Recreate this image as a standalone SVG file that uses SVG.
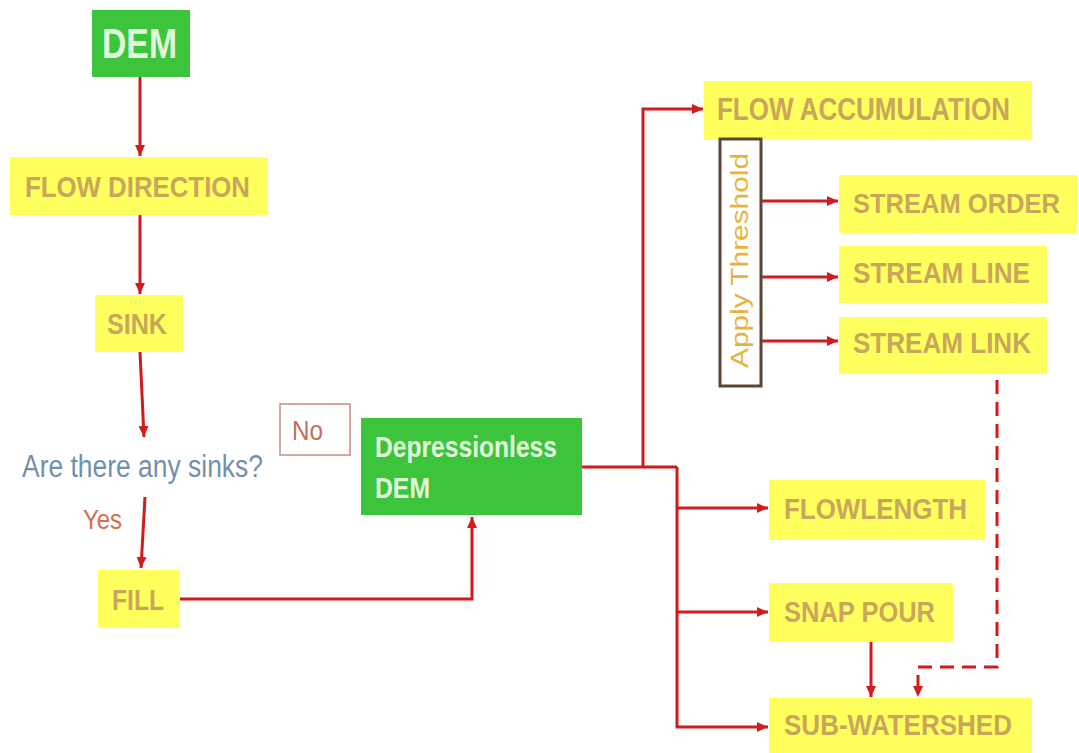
<svg xmlns="http://www.w3.org/2000/svg" width="1079" height="753" viewBox="0 0 1079 753">
<defs>
<style>
.g{fill:#3cc43c}
.y{fill:#ffff5e}
.yt{font-family:"Liberation Sans",Arial,sans-serif;font-weight:bold;fill:#c9a65c}
.gt{font-family:"Liberation Sans",Arial,sans-serif;fill:#e2f8da}
.c{fill:none;stroke:#d01c1c;stroke-width:3}
.d{stroke-dasharray:14 8}
</style>
<marker id="ah" markerWidth="12" markerHeight="10" refX="11" refY="5" orient="auto" markerUnits="userSpaceOnUse">
<path d="M0,0 L11,5 L0,10 Z" fill="#d01c1c"/>
</marker>
</defs>
<rect width="1079" height="753" fill="#ffffff"/>

<g id="connectors">
<path class="c" d="M140,77 V156" marker-end="url(#ah)"/>
<path class="c" d="M140,215 V294" marker-end="url(#ah)"/>
<path class="c" d="M140,352 L144,437" marker-end="url(#ah)"/>
<path class="c" d="M145,497 L141,568" marker-end="url(#ah)"/>
<path class="c" d="M180,599 H472 V517" marker-end="url(#ah)"/>
<path class="c" d="M582,467 H677"/>
<path class="c" d="M643,467 V109 H703" marker-end="url(#ah)"/>
<path class="c" d="M677,467 V727 H768" marker-end="url(#ah)"/>
<path class="c" d="M677,508 H768" marker-end="url(#ah)"/>
<path class="c" d="M677,612 H768" marker-end="url(#ah)"/>
<path class="c" d="M761,201 H838" marker-end="url(#ah)"/>
<path class="c" d="M761,277 H838" marker-end="url(#ah)"/>
<path class="c" d="M761,341 H838" marker-end="url(#ah)"/>
<path class="c" d="M871,642 V697" marker-end="url(#ah)"/>
<path class="c d" d="M997,380 V667 H918 V697" marker-end="url(#ah)"/>
</g>

<g id="dem">
<rect class="g" x="92" y="10" width="98" height="67"/>
<text class="gt" x="102" y="58" font-size="42" font-weight="bold" textLength="75" lengthAdjust="spacingAndGlyphs">DEM</text>
</g>

<g id="flow-direction">
<rect class="y" x="10" y="157" width="258" height="58"/>
<text class="yt" x="25" y="197" font-size="30" textLength="225" lengthAdjust="spacingAndGlyphs">FLOW DIRECTION</text>
</g>

<g id="sink">
<rect class="y" x="95" y="295" width="88" height="57"/>
<text class="yt" x="107" y="334" font-size="29" textLength="60" lengthAdjust="spacingAndGlyphs">SINK</text>
</g>

<g id="question">
<text x="22" y="477" font-family="Liberation Sans, Arial, sans-serif" font-size="31" fill="#7290ac" textLength="241" lengthAdjust="spacingAndGlyphs">Are there any sinks?</text>
</g>

<g id="no">
<rect x="280" y="404" width="70" height="51" fill="#ffffff" stroke="#c48a86" stroke-width="1.5"/>
<text x="292" y="440" font-family="Liberation Sans, Arial, sans-serif" font-size="27" fill="#c0705c" textLength="31" lengthAdjust="spacingAndGlyphs">No</text>
</g>

<g id="yes">
<text x="83" y="529" font-family="Liberation Sans, Arial, sans-serif" font-size="27" fill="#d2704e" textLength="39" lengthAdjust="spacingAndGlyphs">Yes</text>
</g>

<g id="fill">
<rect class="y" x="98" y="570" width="82" height="58"/>
<text class="yt" x="112" y="610" font-size="30" textLength="52" lengthAdjust="spacingAndGlyphs">FILL</text>
</g>

<g id="depressionless-dem">
<rect class="g" x="361" y="418" width="221" height="97"/>
<text class="gt" x="375" y="457" font-size="29" font-weight="bold" textLength="182" lengthAdjust="spacingAndGlyphs">Depressionless</text>
<text class="gt" x="375" y="498" font-size="29" font-weight="bold" textLength="55" lengthAdjust="spacingAndGlyphs">DEM</text>
</g>

<g id="flow-accumulation">
<rect class="y" x="704" y="81" width="328" height="59"/>
<text class="yt" x="717" y="120" font-size="31" textLength="293" lengthAdjust="spacingAndGlyphs">FLOW ACCUMULATION</text>
</g>

<g id="apply-threshold">
<rect x="720" y="139" width="41" height="247" fill="#ffffff" stroke="#5b4636" stroke-width="3"/>
<text transform="translate(748,368) rotate(-90)" font-family="Liberation Sans, Arial, sans-serif" font-size="23" fill="#e6b43c" textLength="215" lengthAdjust="spacingAndGlyphs">Apply Threshold</text>
</g>

<g id="stream-order">
<rect class="y" x="839" y="175" width="238" height="58"/>
<text class="yt" x="853" y="213" font-size="28" textLength="207" lengthAdjust="spacingAndGlyphs">STREAM ORDER</text>
</g>

<g id="stream-line">
<rect class="y" x="839" y="246" width="208" height="57"/>
<text class="yt" x="853" y="283" font-size="29" textLength="177" lengthAdjust="spacingAndGlyphs">STREAM LINE</text>
</g>

<g id="stream-link">
<rect class="y" x="839" y="317" width="208" height="57"/>
<text class="yt" x="853" y="353" font-size="29" textLength="178" lengthAdjust="spacingAndGlyphs">STREAM LINK</text>
</g>

<g id="flowlength">
<rect class="y" x="769" y="480" width="216" height="60"/>
<text class="yt" x="784" y="519" font-size="29" textLength="183" lengthAdjust="spacingAndGlyphs">FLOWLENGTH</text>
</g>

<g id="snap-pour">
<rect class="y" x="769" y="583" width="184" height="59"/>
<text class="yt" x="784" y="622" font-size="29" textLength="151" lengthAdjust="spacingAndGlyphs">SNAP POUR</text>
</g>

<g id="sub-watershed">
<rect class="y" x="769" y="698" width="263" height="55"/>
<text class="yt" x="784" y="735" font-size="29" textLength="228" lengthAdjust="spacingAndGlyphs">SUB-WATERSHED</text>
</g>
</svg>
